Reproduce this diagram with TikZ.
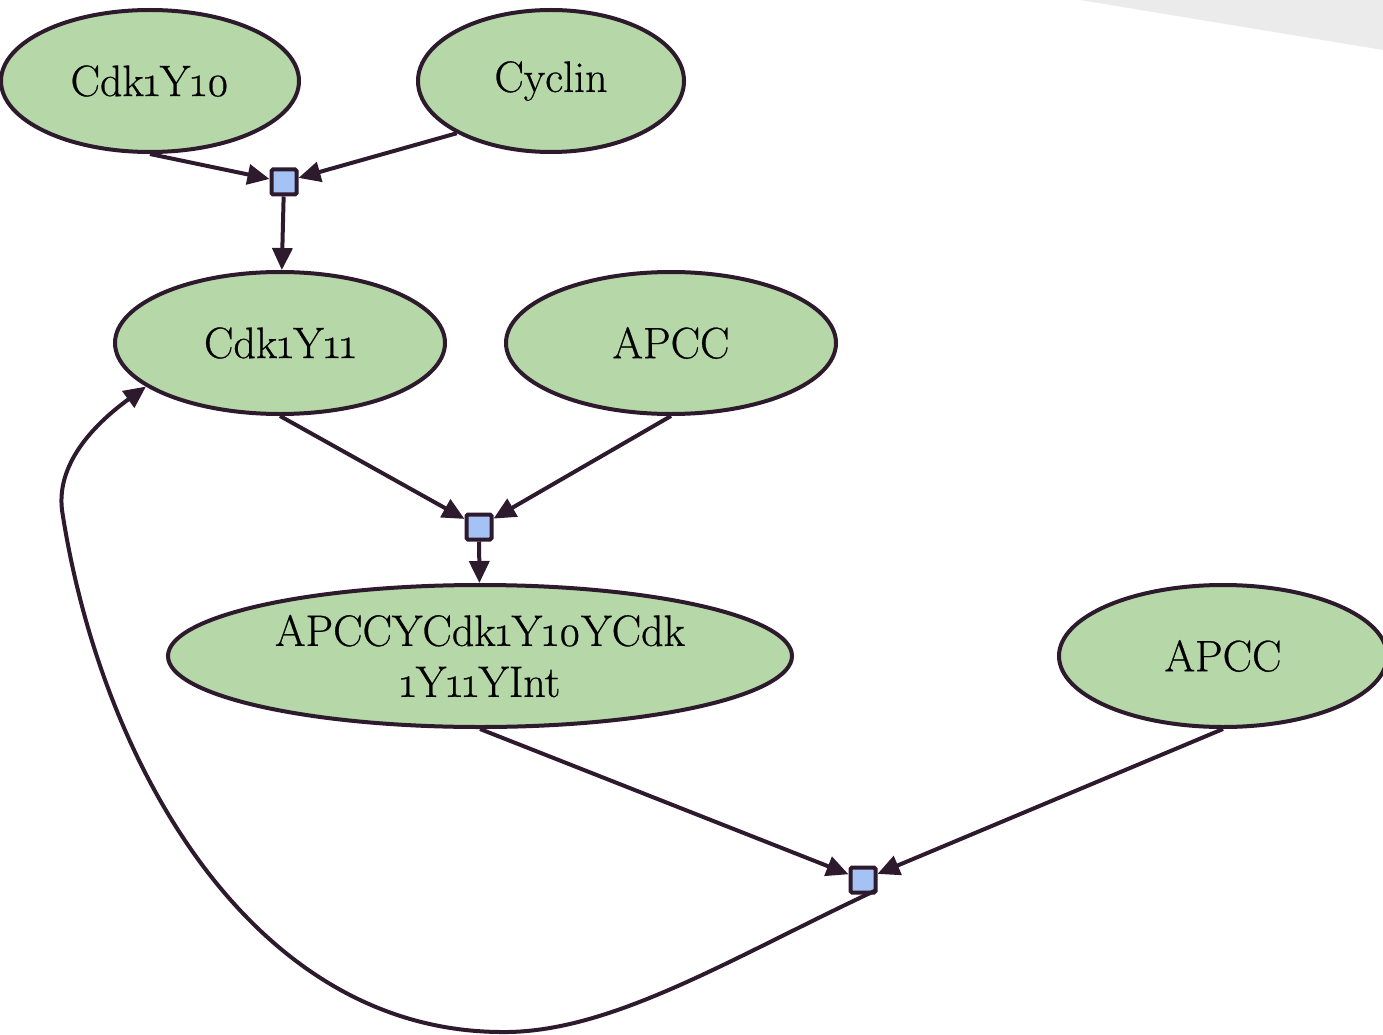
\documentclass[tikz,border=0pt]{standalone}
\usepackage{fontspec}
\setmainfont{Latin Modern Roman}[Numbers=OldStyle,FakeBold=0.6]
\usetikzlibrary{shapes.geometric,arrows.meta}
\definecolor{species}{HTML}{B6D7A8}
\definecolor{edgeink}{HTML}{2D1A2D}
\definecolor{reaction}{HTML}{A4C2F4}
\definecolor{wedgegrey}{HTML}{EBEBEB}
\begin{document}
\begin{tikzpicture}[x=1pt,y=-1pt,
  spec/.style={ellipse,draw=edgeink,fill=species,line width=4pt,inner sep=0pt,
    minimum height=142pt,font=\fontsize{44}{53}\selectfont,align=center},
  rxn/.style={rectangle,draw=edgeink,fill=reaction,line width=4pt,
    minimum size=25pt,inner sep=0pt,rounded corners=1.5pt},
  arr/.style={draw=edgeink,line width=4pt,-{Triangle[length=22pt,width=20pt]}}]
\useasboundingbox (0,0) rectangle (1383,1035);
% light backdrop wedge in the upper right corner
\fill[wedgegrey] (1080,0) -- (1383,0) -- (1383,50) -- cycle;

% species
\node[spec,minimum width=298pt] (c10) at (150,81) {Cdk1Y10};
\node[spec,minimum width=266pt] (cyc) at (551,81) {Cyclin};
\node[spec,minimum width=330pt] (c11) at (280,343) {Cdk1Y11};
\node[spec,minimum width=330pt] (apa) at (671,343) {APCC};
\node[spec,minimum width=624pt] (int) at (480,656) {APCCYCdk1Y10YCdk\\[-2pt]1Y11YInt};
\node[spec,minimum width=328pt] (apb) at (1223,656) {APCC};

% reactions
\node[rxn] (r1) at (284,182) {};
\node[rxn] (r2) at (479,527) {};
\node[rxn] (r3) at (863,880) {};

% association of Cdk1Y10 with Cyclin
\draw[arr] (c10.south) -- (r1);
\draw[arr] (cyc.209) -- (r1);
\draw[arr] (r1) -- (c11);

% binding of APCC
\draw[arr] (c11.south) -- (r2);
\draw[arr] (apa.south) -- (r2);
\draw[arr] (r2) -- (int);

% release of Cdk1Y11
\draw[arr] (int.south) -- (r3);
\draw[arr] (apb.south) -- (r3);
\coordinate (lowbend) at (500,1032);
\coordinate (leftbend) at (62,510);
\draw[arr] ([shift={(-2pt,4pt)}]r3.south east) .. controls (731,958) and (610,1034) .. (lowbend)
  .. controls (250,1030) and (100,760) .. (leftbend)
  .. controls (56,460) and (100,420) .. (c11.198);
\end{tikzpicture}
\end{document}
